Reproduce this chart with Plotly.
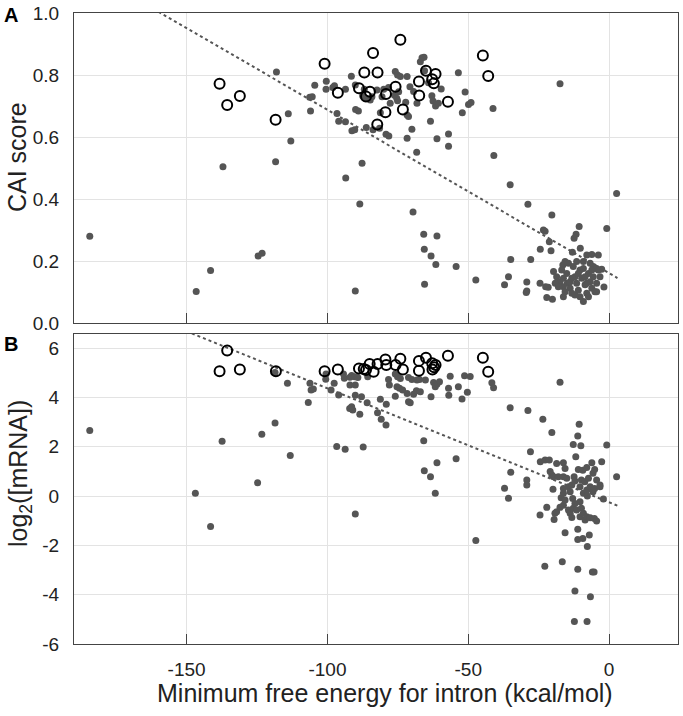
import plotly.graph_objects as go

# ---------------- Panel A: CAI score ----------------
a_fill_x = [-184.4, -146.6, -141.5, -137.1, -124.6, -123.2, -118.4, -118.1, -113.9, -113.0,
            -106.0, -106.3, -105.4, -104.5, -100.4, -100.5, -98.1, -97.5, -96.6, -96.0,
            -93.6, -93.6, -93.5, -91.3, -90.3, -91.5, -90.1, -90.0, -89.0, -88.5,
            -90.1, -87.7, -87.5, -86.9, -86.4, -86.2, -84.8, -84.2, -83.8, -82.4,
            -81.5, -81.2, -80.6, -80.0, -79.2, -78.3, -78.2, -77.7, -76.2, -75.9,
            -75.1, -75.4, -75.1, -74.7, -74.1, -72.2, -71.7, -71.7, -71.7, -71.2,
            -70.7, -70.0, -69.6, -69.4, -68.3, -68.2, -67.0, -66.4, -65.7, -65.5,
            -65.8, -65.6, -65.5, -64.1, -63.4, -63.2, -62.9, -62.5, -61.6, -61.5,
            -61.1, -61.1, -60.6, -59.6, -57.0, -57.0, -54.3, -53.5, -52.1, -51.1,
            -49.9, -49.0, -47.3, -41.2, -40.9, -37.1, -35.7, -35.1, -34.9, -29.4,
            -29.2, -29.2, -28.8, -27.8, -24.5, -24.4, -23.3, -22.7, -22.5, -22.1,
            -21.6, -21.2, -20.6, -20.3, -20.1, -17.4, -16.4, -16.2, -15.6, -13.0,
            -12.4, -11.7, -10.6, -10.2, -9.1, -7.9, -6.1, -4.4, -3.8, -2.6,
            -1.8, -0.8, 2.7,
            -19.7, -18.6, -17.4, -19.1, -18.0, -16.2, -15.0, -14.8, -13.8, -12.7,
            -12.1, -11.5, -10.9, -10.3, -9.7, -9.1, -8.5, -7.9, -7.3, -6.7,
            -6.1, -5.6, -5.0, -4.4, -3.8, -10.3, -13.2, -16.2, -16.8, -14.4,
            -11.5, -9.1, -6.7, -5.6, -7.9, -12.1, -13.8, -15.6, -4.4, -8.5,
            -10.9, -13.2, -6.1, -3.2, -7.3]
a_fill_y = [0.280, 0.102, 0.169, 0.504, 0.216, 0.225, 0.520, 0.810, 0.675, 0.587,
            0.684, 0.728, 0.730, 0.767, 0.780, 0.754, 0.760, 0.765, 0.676, 0.651,
            0.649, 0.754, 0.468, 0.620, 0.623, 0.796, 0.768, 0.689, 0.684, 0.384,
            0.103, 0.515, 0.733, 0.754, 0.725, 0.631, 0.719, 0.730, 0.623, 0.752,
            0.628, 0.678, 0.730, 0.754, 0.609, 0.760, 0.603, 0.709, 0.735, 0.811,
            0.800, 0.725, 0.717, 0.746, 0.795, 0.712, 0.795, 0.671, 0.596, 0.666,
            0.762, 0.625, 0.358, 0.747, 0.551, 0.709, 0.843, 0.856, 0.857, 0.814,
            0.286, 0.238, 0.125, 0.775, 0.651, 0.216, 0.733, 0.716, 0.700, 0.189,
            0.594, 0.281, 0.709, 0.755, 0.610, 0.570, 0.182, 0.807, 0.678, 0.745,
            0.705, 0.711, 0.139, 0.692, 0.540, 0.123, 0.149, 0.446, 0.205, 0.098,
            0.103, 0.132, 0.383, 0.205, 0.128, 0.238, 0.300, 0.296, 0.117, 0.082,
            0.115, 0.262, 0.233, 0.348, 0.077, 0.772, 0.187, 0.085, 0.198, 0.228,
            0.273, 0.286, 0.311, 0.241, 0.069, 0.219, 0.221, 0.176, 0.219, 0.173,
            0.116, 0.305, 0.418,
            0.166, 0.149, 0.133, 0.128, 0.117, 0.144, 0.160, 0.128, 0.112, 0.182,
            0.149, 0.128, 0.106, 0.171, 0.144, 0.198, 0.123, 0.096, 0.160, 0.133,
            0.112, 0.149, 0.101, 0.128, 0.171, 0.085, 0.096, 0.117, 0.171, 0.193,
            0.198, 0.176, 0.193, 0.182, 0.128, 0.090, 0.133, 0.101, 0.101, 0.149,
            0.160, 0.144, 0.171, 0.149, 0.085]

a_open_x = [-138.3, -135.6, -131.1, -118.4, -101.0, -96.3, -83.8, -74.1, -86.9, -82.2,
            -88.8, -86.3, -84.9, -79.2, -75.8, -79.4, -73.2, -82.3, -67.5, -67.4,
            -65.0, -62.8, -62.2, -61.6, -57.2, -44.8, -42.9]
a_open_y = [0.772, 0.703, 0.732, 0.656, 0.836, 0.743, 0.871, 0.914, 0.808, 0.808,
            0.757, 0.731, 0.746, 0.739, 0.762, 0.680, 0.689, 0.640, 0.779, 0.734,
            0.814, 0.786, 0.773, 0.803, 0.714, 0.863, 0.797]

# ---------------- Panel B: log2([mRNA]) ----------------
b_fill_x = [-184.4, -146.9, -141.5, -137.4, -124.8, -123.3, -118.6, -118.6, -114.2, -113.2,
            -106.8, -106.2, -105.8, -105.0, -100.6, -100.5, -98.7, -97.6, -96.0, -96.7,
            -93.7, -94.3, -94.0, -92.1, -92.0, -91.4, -92.0, -91.4, -91.0, -90.1,
            -90.1, -90.4, -89.2, -88.5, -87.9, -87.3, -90.1, -85.9, -85.7, -82.2,
            -81.2, -80.9, -79.2, -79.1, -78.3, -78.0, -75.9, -75.3, -74.4, -75.1,
            -75.9, -74.1, -73.3, -71.7, -71.2, -70.6, -71.2, -70.0, -69.4, -68.4,
            -67.0, -68.2, -67.3, -65.8, -65.6, -63.4, -61.7, -61.1, -65.2, -63.2,
            -62.3, -61.1, -60.2, -61.7, -57.0, -56.9, -56.4, -54.3, -53.5, -52.2,
            -51.3, -49.3, -50.3, -47.3, -41.6, -41.0, -37.1, -35.7, -35.1, -34.9,
            -29.2, -29.2, -28.8, -27.9, -24.4, -24.5, -23.5, -22.8, -22.7, -22.1,
            -21.2, -20.9, -20.3, -20.3, -19.9, -19.7, -19.5, -19.2, -18.6, -18.6,
            -18.0, -17.4, -17.4, -17.0, -16.6, -16.2, -16.2, -16.2, -16.2, -16.2,
            -15.6, -15.6, -15.6, -15.0, -14.4, -14.4, -13.8, -13.8, -13.2, -13.2,
            -12.9, -12.7, -12.7, -12.4, -12.3, -12.1, -12.1, -12.1, -11.8, -11.5,
            -11.1, -11.1, -11.1, -11.1, -10.9, -10.6, -10.3, -10.3, -10.3, -10.0,
            -9.8, -9.8, -9.3, -9.3, -9.1, -9.1, -8.6, -8.5, -7.9, -7.9,
            -7.9, -7.8, -7.7, -7.7, -7.3, -7.0, -6.7, -6.7, -6.6, -6.1,
            -5.9, -5.7, -5.7, -5.3, -5.2, -5.1, -5.1, -4.4, -4.4, -3.2,
            -3.2, -2.6, -2.0, -0.8, 2.7]
b_fill_y = [2.66, 0.11, -1.24, 2.22, 0.54, 2.51, 5.01, 2.96, 4.57, 1.64,
            3.79, 4.57, 4.30, 4.34, 4.74, 4.95, 4.30, 4.57, 4.10, 2.01,
            1.90, 4.95, 4.78, 3.55, 4.82, 4.89, 4.50, 3.62, 3.49, 4.09,
            4.50, 4.84, 4.81, 3.32, 4.03, 1.99, -0.73, 3.78, 4.84, 3.38,
            3.92, 3.11, 2.88, 3.72, 4.73, 4.50, 4.05, 4.43, 4.37, 4.84,
            4.95, 4.77, 4.30, 4.16, 3.82, 3.78, 4.81, 4.73, 4.13, 4.27,
            4.23, 4.70, 4.73, 2.24, 1.03, 0.78, 0.11, 1.35, 4.70, 4.03,
            4.60, 4.53, 4.63, 4.43, 4.37, 4.09, 4.86, 1.51, 4.43, 3.93,
            4.88, 4.85, 4.21, -1.80, 4.59, 4.39, 0.32, -0.09, 3.58, 0.96,
            0.65, 0.45, 3.47, 1.80, 1.39, -0.77, 3.11, -2.85, 1.46, -0.46,
            1.46, 0.99, 2.58, 0.85, 0.27, 0.78, -0.95, -0.70, 1.32, -0.64,
            0.78, 4.61, -0.46, -0.07, -2.66, 1.35, 0.78, 0.31, 0.11, -0.37,
            1.12, -0.16, -1.49, 0.72, 0.38, -0.57, 0.17, -0.70, 0.45, -0.87,
            -0.10, 2.09, -0.50, 0.78, -5.09, 0.61, -0.30, -3.85, 1.59, -0.57,
            2.43, -1.35, -1.76, -2.97, 1.08, 2.91, 0.38, -0.23, -0.84, 2.04,
            0.65, -0.50, 1.05, -1.72, 0.11, -0.70, 0.58, -0.97, 1.16, 0.24,
            -0.84, -5.09, 0.00, -2.05, 0.72, -1.58, 0.38, -0.88, -4.08, 1.35,
            -3.08, 0.92, 0.17, -3.08, -0.91, 1.08, 0.31, 0.65, -1.01, 0.38,
            0.45, 1.39, -0.12, 2.07, 0.78]

b_open_x = [-138.3, -135.6, -131.1, -118.3, -101.0, -96.3, -88.8, -87.1, -86.3, -85.0,
            -83.6, -82.2, -79.4, -79.1, -75.8, -74.1, -73.2, -67.5, -67.5, -65.0,
            -62.8, -62.1, -61.6, -62.7, -57.2, -44.8, -42.9]
b_open_y = [5.06, 5.90, 5.13, 5.06, 5.06, 5.13, 5.17, 5.15, 5.11, 5.35,
            5.04, 5.35, 5.54, 5.31, 5.31, 5.57, 5.13, 5.48, 5.08, 5.61,
            5.38, 5.22, 5.31, 5.13, 5.69, 5.61, 5.04]

# regression (dotted) lines
fit_x = [-160.0, 3.0]
fit_a_y = [1.004, 0.145]
fit_b_x = [-160.0, 3.0]
fit_b_y = [7.14, -0.39]

x_ticks = [-150, -100, -50, 0]
x_tick_text = ["-150", "-100", "-50", "0"]
a_ticks = [0.0, 0.2, 0.4, 0.6, 0.8, 1.0]
a_tick_text = ["0.0", "0.2", "0.4", "0.6", "0.8", "1.0"]
b_ticks = [-6, -4, -2, 0, 2, 4, 6]
b_tick_text = ["-6", "-4", "-2", "0", "2", "4", "6"]

x_title = "Minimum free energy for intron (kcal/mol)"
a_title = "CAI score"
b_title = "log<sub>2</sub>([mRNA])"

FILL = "#555555"
FONT = "Liberation Sans, Arial, sans-serif"
TXT = "#222222"

fig = go.Figure()
fig.add_trace(go.Scatter(x=fit_x, y=fit_a_y, mode="lines", xaxis="x", yaxis="y",
                         line=dict(color="#555555", width=2, dash="dot"), hoverinfo="skip"))
fig.add_trace(go.Scatter(x=a_fill_x, y=a_fill_y, mode="markers", xaxis="x", yaxis="y",
                         marker=dict(color=FILL, size=7, line=dict(width=0))))
fig.add_trace(go.Scatter(x=a_open_x, y=a_open_y, mode="markers", xaxis="x", yaxis="y",
                         marker=dict(color="rgba(0,0,0,0)", size=10, line=dict(color="black", width=2))))

fig.add_trace(go.Scatter(x=fit_b_x, y=fit_b_y, mode="lines", xaxis="x2", yaxis="y2",
                         line=dict(color="#555555", width=2, dash="dot"), hoverinfo="skip"))
fig.add_trace(go.Scatter(x=b_fill_x, y=b_fill_y, mode="markers", xaxis="x2", yaxis="y2",
                         marker=dict(color=FILL, size=7, line=dict(width=0))))
fig.add_trace(go.Scatter(x=b_open_x, y=b_open_y, mode="markers", xaxis="x2", yaxis="y2",
                         marker=dict(color="rgba(0,0,0,0)", size=10, line=dict(color="black", width=2))))

axis_common = dict(showgrid=True, gridcolor="#e3e3e3", gridwidth=1, zeroline=False,
                   showline=True, linecolor="#444444", linewidth=1.2, mirror=True,
                   automargin=False,
                   tickfont=dict(size=19, color=TXT, family=FONT))

PH = 631.0  # plot-area height in px (y=13..644)
PW = 604.0  # plot-area width in px (x=74..678)

fig.update_layout(
    width=683, height=716,
    margin=dict(l=74, r=5, t=13, b=72),
    paper_bgcolor="white", plot_bgcolor="white",
    showlegend=False,
    hovermode=False,
    font=dict(family=FONT, color=TXT),
    xaxis=dict(domain=[0, 1], anchor="y", range=[-190, 24.5], tickvals=x_ticks,
               ticktext=x_tick_text, showticklabels=False, ticks="inside", ticklen=10,
               tickcolor="#444444", **axis_common),
    yaxis=dict(domain=[(644 - 323) / PH, 1], anchor="x", range=[0, 1.0], tickvals=a_ticks,
               ticktext=a_tick_text, ticks="", ticklabelstandoff=10, **axis_common),
    xaxis2=dict(domain=[0, 1], anchor="y2", range=[-190, 24.5], tickvals=x_ticks,
                ticktext=x_tick_text, ticks="inside", ticklen=10, tickcolor="#444444",
                ticklabelstandoff=8, **axis_common),
    yaxis2=dict(domain=[0, (644 - 334) / PH], anchor="x2", range=[-6, 6.57], tickvals=b_ticks,
                ticktext=b_tick_text, ticks="", ticklabelstandoff=10, **axis_common),
    annotations=[
        dict(text="<b>A</b>", xref="paper", yref="paper", x=(11 - 74) / PW, y=(644 - 15) / PH,
             xanchor="center", yanchor="middle", showarrow=False,
             font=dict(size=20, family=FONT, color="black")),
        dict(text="<b>B</b>", xref="paper", yref="paper", x=(11 - 74) / PW, y=(644 - 344) / PH,
             xanchor="center", yanchor="middle", showarrow=False,
             font=dict(size=20, family=FONT, color="black")),
        dict(text=x_title, xref="paper", yref="paper", x=(385 - 74) / PW, y=(644 - 693) / PH,
             xanchor="center", yanchor="middle", showarrow=False,
             font=dict(size=25, family=FONT, color=TXT)),
        dict(text=a_title, xref="paper", yref="paper", x=(17 - 74) / PW, y=(644 - 157) / PH,
             xanchor="center", yanchor="middle", textangle=-90, showarrow=False,
             font=dict(size=25, family=FONT, color=TXT)),
        dict(text=b_title, xref="paper", yref="paper", x=(20 - 74) / PW, y=(644 - 474) / PH,
             xanchor="center", yanchor="middle", textangle=-90, showarrow=False,
             font=dict(size=25, family=FONT, color=TXT)),
    ],
)

# remove the browser's default 8px body margin so the figure fills the window exactly
fig.write_html("out.html",
               config={"displayModeBar": False},
               post_script="document.body.style.margin='0';document.body.style.overflow='hidden';")
